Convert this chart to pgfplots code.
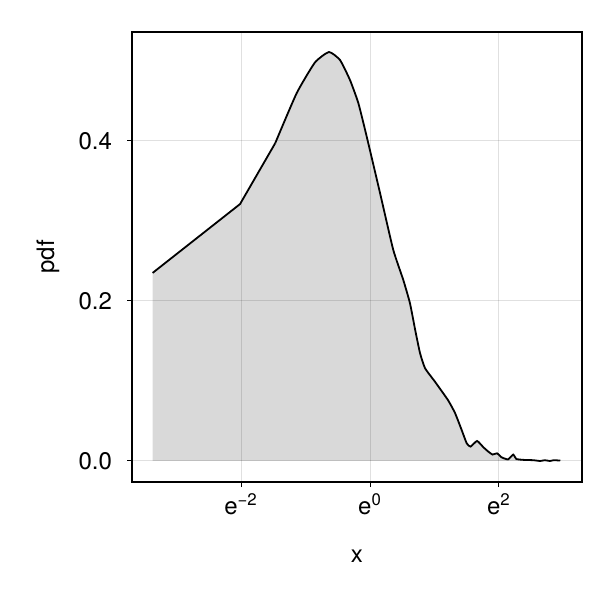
\documentclass[border=0pt]{standalone}
\usepackage{fontspec}
\setmainfont{TeX Gyre Heros}
\usepackage{pgfplots}
\pgfplotsset{compat=1.18}
\begin{document}
\begin{tikzpicture}
\path[use as bounding box] (-66bp,-60bp) rectangle (241bp,241bp);
\begin{axis}[
  at={(0,0)}, anchor=south west,
  scale only axis, width=225bp, height=225bp,
  xmode=log, log basis x=2.718281828,
  xmin=0.02497, xmax=26.76, ymin=-0.02625, ymax=0.536,
  xtick={0.135335,1,7.389056}, xticklabels={e\textsuperscript{−2},e\textsuperscript{0},e\textsuperscript{2}},
  ytick={0,0.2,0.4}, yticklabels={0.0,0.2,0.4},
  minor xtick={},
  /pgf/number format/assume math mode=true,
  tick label style={font=\fontsize{12bp}{14bp}\selectfont},
  yticklabel style={xshift=-4bp},
  label style={font=\fontsize{12bp}{14bp}\selectfont},
  xlabel={x}, ylabel={pdf},
  xlabel style={at={(axis description cs:0.5,-0.164)}, anchor=center},
  ylabel style={at={(axis description cs:-0.187,0.5)}, anchor=center, rotate=0},
  tick align=outside, tick pos=left, major tick length=2.5bp,
  tick style={line width=0.5bp, black},
  axis line style={line width=0.6bp},
  grid=major, major grid style={draw=black, opacity=0.12, line width=0.5bp},
  axis on top,
]
\addplot[draw=none, fill=black!15] coordinates {
(0.03438,0.235) (0.1333,0.321) (0.2299,0.397) (0.3208,0.4596) (0.4261,0.498)
(0.5294,0.511) (0.6282,0.501) (0.7334,0.476) (0.8353,0.447) (0.9512,0.405)
(1.1677,0.335) (1.4333,0.264) (1.677,0.226) (1.859,0.197) (2.0138,0.164)
(2.1706,0.135) (2.3466,0.116) (2.740,0.099) (3.3535,0.076) (3.736,0.060)
(4.137,0.039) (4.4817,0.022) (4.7588,0.018) (5.259,0.025) (5.812,0.017)
(6.234,0.012) (6.686,0.008) (7.171,0.0096) (7.691,0.0046) (8.499,0.002)
(9.207,0.008) (9.679,0.0025) (10.805,0.0014) (12.554,0.001) (14.013,0.0)
(15.029,0.001) (16.281,0.0) (17.288,0.001) (19.106,0.0005)
} \closedcycle;
\addplot[black, line width=0.9bp, line join=round] coordinates {
(0.03438,0.235) (0.1333,0.321) (0.2299,0.397)
};
\addplot[black, line width=0.9bp, smooth, tension=0.3] coordinates {
(0.2299,0.397) (0.3208,0.4596) (0.4261,0.498)
(0.5294,0.511) (0.6282,0.501) (0.7334,0.476) (0.8353,0.447) (0.9512,0.405)
(1.1677,0.335) (1.4333,0.264) (1.677,0.226) (1.859,0.197) (2.0138,0.164)
(2.1706,0.135) (2.3466,0.116) (2.740,0.099) (3.3535,0.076) (3.736,0.060)
(4.137,0.039) (4.4817,0.022) (4.7588,0.018) (5.259,0.025) (5.812,0.017)
(6.234,0.012) (6.686,0.008) (7.171,0.0096) (7.691,0.0046) (8.499,0.002)
(9.207,0.008) (9.679,0.0025) (10.805,0.0014) (12.554,0.001) (14.013,0.0)
(15.029,0.001) (16.281,0.0) (17.288,0.001) (19.106,0.0005)
};
\end{axis}
\end{tikzpicture}
\end{document}
